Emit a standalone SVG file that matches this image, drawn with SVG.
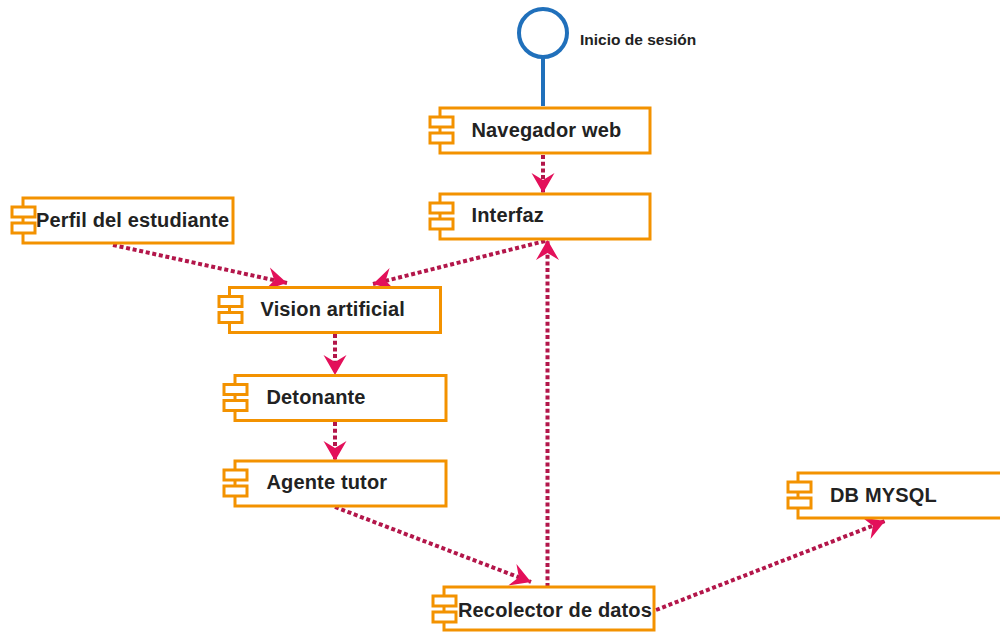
<svg xmlns="http://www.w3.org/2000/svg" width="1000" height="632" viewBox="0 0 1000 632">
  <style>
    .box { fill: #ffffff; stroke: #f39200; stroke-width: 3; }
    .tab { fill: #ffffff; stroke: #f39200; stroke-width: 3; }
    .label { font-family: "Liberation Sans", Arial, sans-serif; font-weight: bold; font-size: 20px; letter-spacing: 0.15px; fill: #222222; }
    .small { font-size: 15.5px; letter-spacing: 0; }
    .dep { fill: none; stroke: #b3164a; stroke-width: 4; stroke-dasharray: 4 2.7; marker-end: url(#head); }
    .iface { fill: none; stroke: #2070bb; stroke-width: 4; }
  </style>
  <defs>
    <!-- swept arrowhead, tip at the path end -->
    <marker id="head" markerUnits="userSpaceOnUse" markerWidth="24" markerHeight="26" viewBox="-22 -13 24 26" refX="0" refY="0" orient="auto">
      <path d="M0,0 L-20,-11.5 L-13,0 L-20,11.5 Z" fill="#e3105a"/>
    </marker>
  </defs>

  <!-- provided interface -->
  <g id="inicio-sesion">
    <circle class="iface" cx="543" cy="33" r="24"/>
    <line class="iface" x1="543" y1="57" x2="543" y2="106"/>
    <text class="label small" x="580" y="45">Inicio de sesión</text>
  </g>

  <!-- dependencies -->
  <g id="connectors">
    <line class="dep" x1="543" y1="155" x2="543" y2="193"/>
    <line class="dep" x1="545" y1="241" x2="373" y2="284"/>
    <line class="dep" x1="113" y1="245" x2="287" y2="283"/>
    <line class="dep" x1="335" y1="334" x2="335" y2="375"/>
    <line class="dep" x1="335" y1="422" x2="335" y2="461"/>
    <line class="dep" x1="335" y1="507" x2="531" y2="582"/>
    <line class="dep" x1="547.5" y1="587" x2="547.5" y2="240"/>
    <line class="dep" x1="656" y1="610" x2="885" y2="521"/>
  </g>

  <g id="navegador-web">
    <rect class="box" x="440" y="108" width="210" height="45"/>
    <rect class="tab" x="430" y="117" width="23" height="10"/>
    <rect class="tab" x="430" y="133" width="23" height="10"/>
    <text class="label" x="471.5" y="137">Navegador web</text>
  </g>

  <g id="interfaz">
    <rect class="box" x="440" y="194" width="210" height="45"/>
    <rect class="tab" x="430" y="203" width="23" height="10"/>
    <rect class="tab" x="430" y="219" width="23" height="10"/>
    <text class="label" x="471.5" y="222">Interfaz</text>
  </g>

  <g id="perfil-estudiante">
    <rect class="box" x="23" y="198" width="210" height="45"/>
    <rect class="tab" x="12" y="207" width="23" height="10"/>
    <rect class="tab" x="12" y="223" width="23" height="10"/>
    <text class="label" x="36" y="227">Perfil del estudiante</text>
  </g>

  <g id="vision-artificial">
    <rect class="box" x="229.5" y="287.5" width="211" height="45"/>
    <rect class="tab" x="219" y="296.5" width="23" height="10"/>
    <rect class="tab" x="219" y="312.5" width="23" height="10"/>
    <text class="label" x="260.5" y="316">Vision artificial</text>
  </g>

  <g id="detonante">
    <rect class="box" x="235" y="375.5" width="211" height="45"/>
    <rect class="tab" x="224" y="384.5" width="23" height="10"/>
    <rect class="tab" x="224" y="400.5" width="23" height="10"/>
    <text class="label" x="266.5" y="404">Detonante</text>
  </g>

  <g id="agente-tutor">
    <rect class="box" x="235" y="461" width="211" height="45"/>
    <rect class="tab" x="224" y="470" width="23" height="10"/>
    <rect class="tab" x="224" y="486" width="23" height="10"/>
    <text class="label" x="266.5" y="489">Agente tutor</text>
  </g>

  <g id="recolector-datos">
    <rect class="box" x="444" y="587" width="210" height="43"/>
    <rect class="tab" x="433" y="596" width="23" height="10"/>
    <rect class="tab" x="433" y="612" width="23" height="10"/>
    <text class="label" x="458" y="617">Recolector de datos</text>
  </g>

  <g id="db-mysql">
    <rect class="box" x="798" y="473" width="211" height="45"/>
    <rect class="tab" x="788" y="482" width="23" height="10"/>
    <rect class="tab" x="788" y="498" width="23" height="10"/>
    <text class="label" x="830" y="502">DB MYSQL</text>
  </g>
</svg>
